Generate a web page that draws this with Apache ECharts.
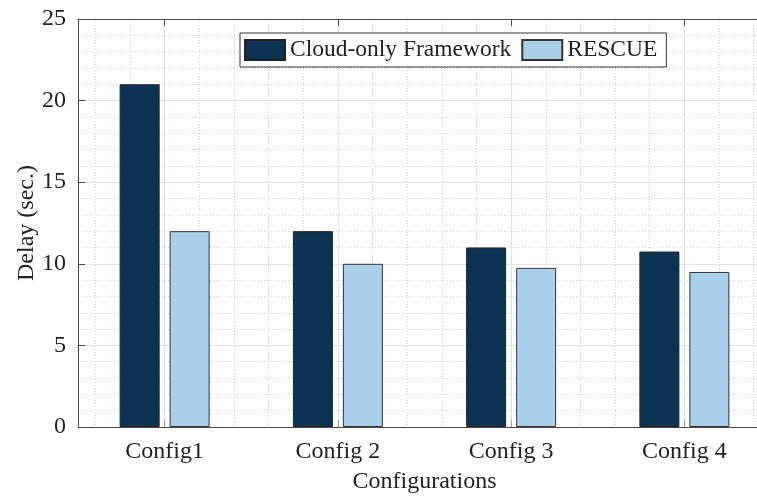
<!DOCTYPE html>
<html>
<head>
<meta charset="utf-8">
<script src="https://cdn.jsdelivr.net/npm/echarts@6/dist/echarts.min.js"></script>
<style>
html, body { margin: 0; padding: 0; background: #fff; }
#chart { width: 757px; height: 500px; }
</style>
</head>
<body>
<div id="chart"></div>
<script>
const categories = ['Config1', 'Config 2', 'Config 3', 'Config 4'];
const cloudOnly = [21, 12, 11, 10.75];
const rescue = [12, 10, 9.75, 9.5];
const seriesNames = ['Cloud-only Framework', 'RESCUE'];

const font = "'Liberation Serif', 'Times New Roman', serif";
const axisColor = '#4a4a4a';

const chart = echarts.init(document.getElementById('chart'));

const option = {
  animation: false,
  textStyle: { fontFamily: font },
  // plot runs past the right edge of the picture, as in the original
  grid: { left: 78, top: 19, right: -14, bottom: 73, containLabel: false, outerBoundsMode: 'none' },
  legend: {
    top: 33,
    left: 240,
    itemWidth: 40,
    itemHeight: 20,
    itemGap: 10,
    padding: [5, 9, 5, 4],
    backgroundColor: '#fff',
    borderColor: '#333',
    borderWidth: 1,
    borderRadius: 0,
    icon: 'rect',
    textStyle: { fontFamily: font, fontSize: 23.5, color: '#222', lineHeight: 20 },
    data: seriesNames
  },
  xAxis: [
    {
      type: 'category',
      data: categories,
      position: 'bottom',
      name: 'Configurations',
      nameLocation: 'middle',
      nameGap: 43,
      nameMoveOverlap: false,
      nameTextStyle: { fontFamily: font, fontSize: 24, color: '#222' },
      axisLine: { show: true, lineStyle: { color: axisColor, width: 1 } },
      axisTick: { show: true, inside: true, alignWithLabel: true, length: 7, lineStyle: { color: '#999' } },
      axisLabel: { fontFamily: font, fontSize: 24, color: '#222', margin: 13 },
      splitLine: { show: false }
    },
    {
      type: 'value',
      position: 'top',
      min: 0.5,
      max: 4.5,
      splitNumber: 4,
      axisLine: { show: true, lineStyle: { color: axisColor, width: 1 } },
      axisTick: { show: true, inside: true, length: 7, lineStyle: { color: axisColor } },
      axisLabel: { show: false },
      splitLine: { show: true, lineStyle: { color: '#e3e3e3', width: 1.2 } },
      minorTick: { show: false, splitNumber: 5 },
      minorSplitLine: { show: true, lineStyle: { color: '#cfcfcf', width: 1, type: [1, 2] } }
    }
  ],
  yAxis: {
    type: 'value',
    min: 0,
    max: 25,
    interval: 5,
    name: 'Delay (sec.)',
    nameLocation: 'middle',
    nameGap: 39,
    nameMoveOverlap: false,
    nameRotate: 90,
    nameTextStyle: { fontFamily: font, fontSize: 24, color: '#222' },
    axisLine: { show: true, lineStyle: { color: axisColor, width: 1 } },
    axisTick: { show: true, inside: true, length: 7, lineStyle: { color: axisColor } },
    axisLabel: { fontFamily: font, fontSize: 24, color: '#222', margin: 12 },
    splitLine: { show: true, lineStyle: { color: '#e3e3e3', width: 1.2 } },
    minorTick: { show: false, splitNumber: 5 },
    minorSplitLine: { show: true, lineStyle: { color: '#cfcfcf', width: 1, type: [1, 2] } }
  },
  series: [
    {
      name: seriesNames[0],
      type: 'bar',
      xAxisIndex: 0,
      data: cloudOnly,
      barWidth: 40,
      barGap: '25%',
      itemStyle: { color: '#0b3454', borderColor: '#222', borderWidth: 1 }
    },
    {
      name: seriesNames[1],
      type: 'bar',
      xAxisIndex: 0,
      data: rescue,
      barWidth: 40,
      barGap: '25%',
      itemStyle: { color: '#a8d0ea', borderColor: '#333', borderWidth: 1 }
    }
  ]
};

chart.setOption(option);
</script>
</body>
</html>
